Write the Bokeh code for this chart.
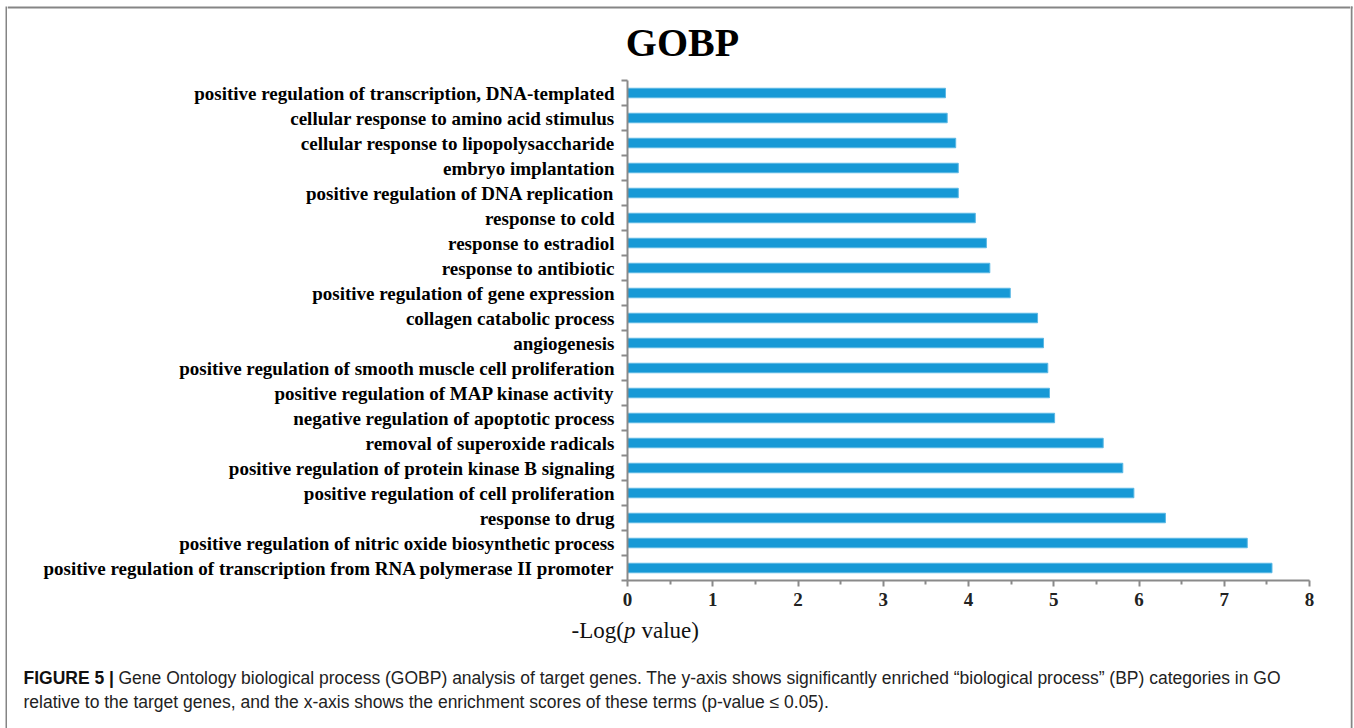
from bokeh.plotting import figure
from bokeh.layouts import row, column
from bokeh.models import Range1d, FixedTicker
from bokeh.core.properties import value
from bokeh.embed import file_html
from bokeh.resources import INLINE

# ---------------- data (top to bottom as displayed) ----------------
terms = [
    "positive regulation of transcription, DNA-templated",
    "cellular response to amino acid stimulus",
    "cellular response to lipopolysaccharide",
    "embryo implantation",
    "positive regulation of DNA replication",
    "response to cold",
    "response to estradiol",
    "response to antibiotic",
    "positive regulation of gene expression",
    "collagen catabolic process",
    "angiogenesis",
    "positive regulation of smooth muscle cell proliferation",
    "positive regulation of MAP kinase activity",
    "negative regulation of apoptotic process",
    "removal of superoxide radicals",
    "positive regulation of protein kinase B signaling",
    "positive regulation of cell proliferation",
    "response to drug",
    "positive regulation of nitric oxide biosynthetic process",
    "positive regulation of transcription from RNA polymerase II promoter",
]
neg_log_p = [3.73, 3.75, 3.85, 3.88, 3.88, 4.08, 4.21, 4.25, 4.49, 4.81,
             4.88, 4.93, 4.95, 5.01, 5.58, 5.81, 5.94, 6.31, 7.27, 7.56]
x_ticks = [0, 1, 2, 3, 4, 5, 6, 7, 8]

title_text = "GOBP"
xlabel_parts = ["-Log(", "p", "value)"]
caption_bold = "FIGURE 5 |"
caption_line1 = "Gene Ontology biological process (GOBP) analysis of target genes. The y-axis shows significantly enriched \u201cbiological process\u201d (BP) categories in GO"
caption_line2 = "relative to the target genes, and the x-axis shows the enrichment scores of these terms (p-value \u2264 0.05)."

# ---------------- layout geometry (page pixels) ----------------
W, H = 1354, 728
LSTRIP, RSTRIP = 7, 4
CW = W - LSTRIP - RSTRIP            # width of middle column
TOP_H, BOT_H = 76, 114
MAIN_H = H - TOP_H - BOT_H          # 538
FL, FR, FT, FB = 627, 1309, 80, 580  # frame edges of bar chart (page px)

serif = "Liberation Serif"
sans = "Liberation Sans"
axis_col = "#8a8a8a"
border_col = "#858585"


def blank(width, height, x0, x1, y0, y1):
    f = figure(width=width, height=height, output_backend="svg", toolbar_location=None,
               x_axis_type=None, y_axis_type=None,
               x_range=Range1d(x0, x1), y_range=Range1d(y1, y0),
               min_border=0, min_border_left=0, min_border_right=0,
               min_border_top=0, min_border_bottom=0)
    f.outline_line_color = None
    f.background_fill_color = "white"
    f.border_fill_color = "white"
    return f


# ---------------- top: title + top border ----------------
top = blank(CW, TOP_H, LSTRIP, LSTRIP + CW, 0, TOP_H)
top.line(x=[LSTRIP, LSTRIP + CW], y=[7, 7], line_color=border_col, line_width=2)
top.text(x=[682], y=[42], text=[title_text], text_font=value(serif),
         text_font_style="bold", text_font_size="40px", text_align="center",
         text_baseline="alphabetic", text_color="black")

# ---------------- main bar chart ----------------
n = len(terms)
ypos = [n - 1 - i for i in range(n)]
p = figure(width=CW, height=MAIN_H, output_backend="svg", toolbar_location=None,
           x_range=Range1d(0, 8), y_range=Range1d(-0.5, n - 0.5),
           min_border_left=FL - LSTRIP, min_border_right=LSTRIP + CW - FR,
           min_border_top=FT - TOP_H, min_border_bottom=TOP_H + MAIN_H - FB)
p.outline_line_color = None
p.grid.grid_line_color = None
p.background_fill_color = "white"
p.border_fill_color = "white"

p.hbar(y=ypos, right=neg_log_p, left=0, height=0.38,
       fill_color="#1799D6", line_color="#5BB8E4", line_width=1)

ya = p.yaxis[0]
ya.ticker = FixedTicker(ticks=ypos, minor_ticks=[i - 0.5 for i in range(n + 1)])
ya.major_label_overrides = {y: t for y, t in zip(ypos, terms)}
ya.major_tick_line_color = None
ya.major_tick_out = 0
ya.major_tick_in = 0
ya.minor_tick_line_color = axis_col
ya.minor_tick_line_width = 2
ya.minor_tick_out = 6
ya.minor_tick_in = 0
ya.axis_line_color = axis_col
ya.axis_line_width = 2
ya.major_label_standoff = 7
ya.major_label_text_font = serif
ya.major_label_text_font_style = "bold"
ya.major_label_text_font_size = "19px"
ya.major_label_text_color = "black"

xa = p.xaxis[0]
xa.ticker = FixedTicker(ticks=x_ticks, minor_ticks=[t + 0.5 for t in x_ticks[:-1]])
xa.axis_line_color = axis_col
xa.axis_line_width = 2
xa.major_tick_line_color = axis_col
xa.major_tick_line_width = 2
xa.major_tick_out = 6
xa.major_tick_in = 0
xa.minor_tick_line_color = axis_col
xa.minor_tick_line_width = 2
xa.minor_tick_out = 4
xa.minor_tick_in = 0
xa.major_label_standoff = 6
xa.major_label_text_font = serif
xa.major_label_text_font_style = "bold"
xa.major_label_text_font_size = "19px"
xa.major_label_text_color = "#222222"

# ---------------- bottom: axis title + caption ----------------
y0b = TOP_H + MAIN_H
bot = blank(CW, BOT_H, LSTRIP, LSTRIP + CW, y0b, H)
bot.text(x=[571], y=[630], text=[xlabel_parts[0]], text_font=value(serif),
         text_font_size="23px", text_baseline="alphabetic", text_color="#111111")
bot.text(x=[623.5], y=[630], text=[xlabel_parts[1]], text_font=value(serif),
         text_font_style="italic", text_font_size="23px", text_baseline="alphabetic",
         text_color="#111111")
bot.text(x=[641], y=[630], text=[xlabel_parts[2]], text_font=value(serif),
         text_font_size="23px", text_baseline="alphabetic", text_color="#111111")

bot.text(x=[23], y=[677], text=[caption_bold], text_font=value(sans),
         text_font_style="bold", text_font_size="17.5px", text_baseline="alphabetic",
         text_color="#111111")
bot.text(x=[118], y=[677], text=[caption_line1], text_font=value(sans),
         text_font_size="17.5px", text_baseline="alphabetic", text_color="#222222")
bot.text(x=[23], y=[701], text=[caption_line2], text_font=value(sans),
         text_font_size="17.5px", text_baseline="alphabetic", text_color="#222222")

# ---------------- side strips carrying the panel border ----------------
lstrip = blank(LSTRIP, H, 0, LSTRIP, 0, H)
lstrip.line(x=[6, 6], y=[6, H], line_color=border_col, line_width=2)
rstrip = blank(RSTRIP, H, LSTRIP + CW, W, 0, H)
rstrip.line(x=[1351, 1351], y=[6, H], line_color=border_col, line_width=2)
rstrip.line(x=[LSTRIP + CW, 1352], y=[7, 7], line_color=border_col, line_width=2)

# each figure wrapped in its own row so that plot frames are not aligned
middle = column(row(top, spacing=0), row(p, spacing=0), row(bot, spacing=0), spacing=0)
layout = row(lstrip, middle, rstrip, spacing=0)

open("out.html", "w").write(file_html(layout, INLINE))
